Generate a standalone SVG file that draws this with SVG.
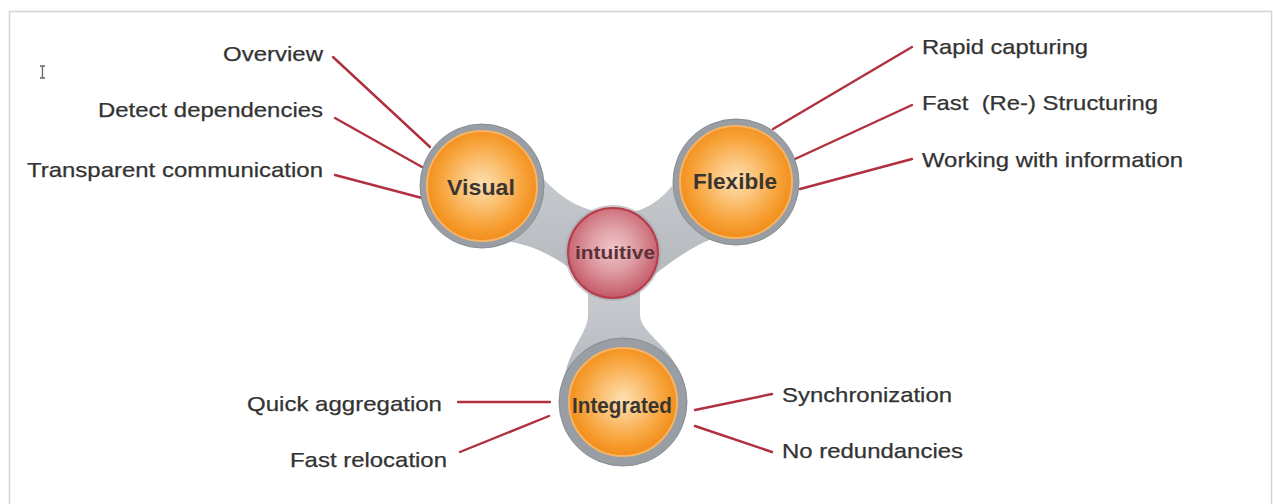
<svg xmlns="http://www.w3.org/2000/svg" width="1273" height="504" viewBox="0 0 1273 504">
  <defs>
    <radialGradient id="orangeFill" cx="50%" cy="48%" r="52%">
      <stop offset="0" stop-color="#fde0b2"/>
      <stop offset="0.35" stop-color="#fbc47a"/>
      <stop offset="0.75" stop-color="#f7a136"/>
      <stop offset="1" stop-color="#f18d1a"/>
    </radialGradient>
    <radialGradient id="redFill" cx="50%" cy="45%" r="55%">
      <stop offset="0" stop-color="#f0c6ca"/>
      <stop offset="0.45" stop-color="#df9ea5"/>
      <stop offset="0.85" stop-color="#cb6d78"/>
      <stop offset="1" stop-color="#bf5864"/>
    </radialGradient>
    <linearGradient id="armFill" x1="0" y1="0" x2="0" y2="1">
      <stop offset="0" stop-color="#c9ccd0"/>
      <stop offset="1" stop-color="#b3b7bb"/>
    </linearGradient>
    <style>
      .label { font-family: "Liberation Sans", Arial, sans-serif; font-size: 21px; fill: #333333; white-space: pre; stroke: #333333; stroke-width: 0.25; }
      .node-text { font-family: "Liberation Sans", Arial, sans-serif; font-size: 22px; font-weight: bold; fill: #3a3530; text-anchor: middle; }
      .ring { fill: #989ea4; stroke: #878d93; stroke-width: 1; }
      .core { fill: url(#orangeFill); stroke: #f8b463; stroke-width: 2; }
      .arm { fill: url(#armFill); }
      .link { stroke: #b1303f; stroke-width: 2.4; stroke-linecap: round; fill: none; }
    </style>
  </defs>

  <!-- page frame -->
  <rect x="9.5" y="11.5" width="1262" height="500" fill="#ffffff" stroke="#d4d4d4" stroke-width="1.5"/>

  <!-- text cursor -->
  <path d="M40,66 h5 M42.5,66 v12 M40,78 h5" stroke="#666" stroke-width="1.3" fill="none"/>

  <!-- connectors from labels to the nodes -->
  <g id="connectors">
    <line class="link" x1="333" y1="57" x2="430" y2="147"/>
    <line class="link" x1="335" y1="118" x2="422" y2="167"/>
    <line class="link" x1="335" y1="175" x2="422" y2="198"/>
    <line class="link" x1="912" y1="47" x2="773" y2="129"/>
    <line class="link" x1="912" y1="105" x2="795" y2="159"/>
    <line class="link" x1="912" y1="159" x2="800" y2="189"/>
    <line class="link" x1="458" y1="402" x2="550" y2="402"/>
    <line class="link" x1="460" y1="452" x2="549" y2="416"/>
    <line class="link" x1="695" y1="410" x2="772" y2="394"/>
    <line class="link" x1="695" y1="426" x2="772" y2="452"/>
  </g>

  <!-- grey arms joining the hub to the three nodes -->
  <g id="arms">
    <path class="arm" d="M526,156 Q556,202 594,211 L598,292 Q545,240 492,240 Z"/>
    <path class="arm" d="M692,153 Q668,205 632,212 L636,290 Q682,250 714,238 Z"/>
    <path class="arm" d="M588,285 L588,315 C588,335 565,350 563,390 L683,390 C681,350 640,335 640,315 L640,285 Z"/>
  </g>

  <g id="node-visual">
    <circle class="ring" cx="482" cy="186" r="62"/>
    <circle class="core" cx="482" cy="186" r="55"/>
    <text class="node-text" x="481" y="195" textLength="68" lengthAdjust="spacingAndGlyphs">Visual</text>
  </g>

  <g id="node-flexible">
    <circle class="ring" cx="736" cy="182" r="63"/>
    <circle class="core" cx="736" cy="182" r="56"/>
    <text class="node-text" x="735" y="189" textLength="84" lengthAdjust="spacingAndGlyphs">Flexible</text>
  </g>

  <g id="node-integrated">
    <circle class="ring" cx="623" cy="402" r="64"/>
    <circle class="core" cx="623" cy="402" r="54"/>
    <text class="node-text" x="622" y="413" textLength="100" lengthAdjust="spacingAndGlyphs">Integrated</text>
  </g>

  <g id="node-intuitive">
    <circle cx="613" cy="253" r="48" fill="#a3a7ab" opacity="0.6"/>
    <circle cx="613" cy="253" r="45" fill="url(#redFill)" stroke="#b83d4b" stroke-width="2"/>
    <text class="node-text" x="615" y="259" style="fill:#5b3138;font-size:19px" textLength="80" lengthAdjust="spacingAndGlyphs">intuitive</text>
  </g>

  <!-- feature labels -->
  <g id="labels-visual">
    <text class="label" x="323" y="61" text-anchor="end" textLength="100" lengthAdjust="spacingAndGlyphs">Overview</text>
    <text class="label" x="323" y="117" text-anchor="end" textLength="225" lengthAdjust="spacingAndGlyphs">Detect dependencies</text>
    <text class="label" x="323" y="177" text-anchor="end" textLength="296" lengthAdjust="spacingAndGlyphs">Transparent communication</text>
  </g>
  <g id="labels-flexible">
    <text class="label" x="922" y="54" textLength="166" lengthAdjust="spacingAndGlyphs">Rapid capturing</text>
    <text class="label" x="922" y="110" textLength="236" lengthAdjust="spacingAndGlyphs">Fast  (Re-) Structuring</text>
    <text class="label" x="922" y="167" textLength="261" lengthAdjust="spacingAndGlyphs">Working with information</text>
  </g>
  <g id="labels-integrated">
    <text class="label" x="247" y="411" textLength="195" lengthAdjust="spacingAndGlyphs">Quick aggregation</text>
    <text class="label" x="290" y="467" textLength="157" lengthAdjust="spacingAndGlyphs">Fast relocation</text>
    <text class="label" x="782" y="402" textLength="170" lengthAdjust="spacingAndGlyphs">Synchronization</text>
    <text class="label" x="782" y="458" textLength="181" lengthAdjust="spacingAndGlyphs">No redundancies</text>
  </g>
</svg>
